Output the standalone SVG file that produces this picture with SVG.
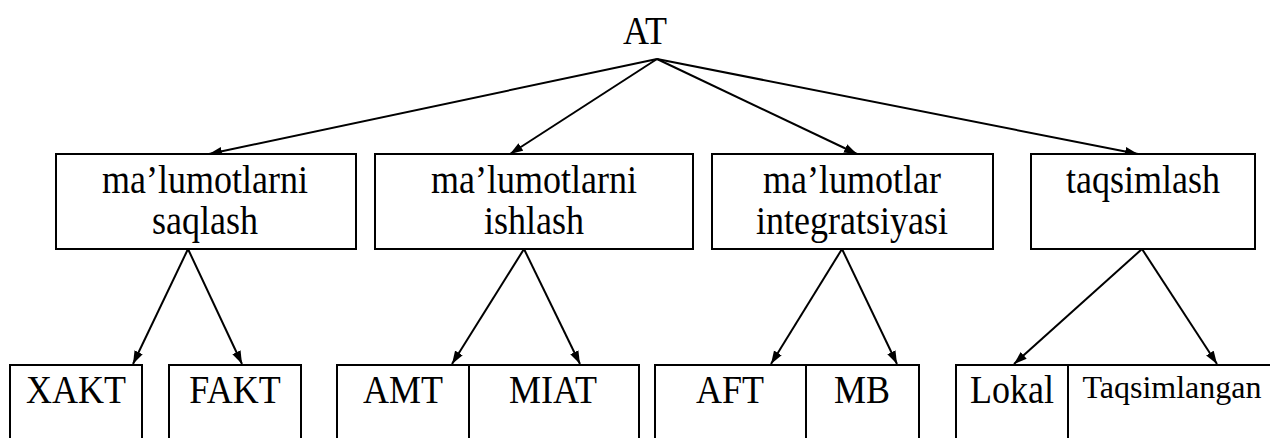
<svg xmlns="http://www.w3.org/2000/svg" width="1270" height="438" viewBox="0 0 1270 438">
<style>
  .box{fill:#fff;stroke:#000;stroke-width:2}
  .div{stroke:#000;stroke-width:2}
  .t{font-family:"Liberation Serif","Times New Roman",serif;font-size:40px;fill:#000;text-anchor:middle}
  .s{font-size:32px}
  .e{stroke:#000;stroke-width:2;fill:none;marker-end:url(#ah)}
</style>
<defs>
  <marker id="ah" markerUnits="userSpaceOnUse" markerWidth="14" markerHeight="10" refX="13" refY="5" orient="auto">
    <path d="M0,0.5 L13,5 L0,9.5 z" fill="#000"/>
  </marker>
</defs>
<rect width="1270" height="438" fill="#fff"/>
<g id="connectors">
  <line class="e" x1="657" y1="59" x2="209" y2="154"/>
  <line class="e" x1="657" y1="59" x2="510" y2="154"/>
  <line class="e" x1="657" y1="59" x2="857" y2="154"/>
  <line class="e" x1="657" y1="59" x2="1138" y2="154"/>
  <line class="e" x1="188" y1="249" x2="133" y2="364"/>
  <line class="e" x1="188" y1="249" x2="242" y2="364"/>
  <line class="e" x1="524" y1="249" x2="452" y2="364"/>
  <line class="e" x1="524" y1="249" x2="580" y2="364"/>
  <line class="e" x1="842" y1="249" x2="771" y2="364"/>
  <line class="e" x1="842" y1="249" x2="897" y2="364"/>
  <line class="e" x1="1142" y1="249" x2="1014" y2="364"/>
  <line class="e" x1="1142" y1="249" x2="1217" y2="364"/>
</g>
<g id="root"><text class="t" transform="translate(645,44) scale(0.9,1)">AT</text></g>
<g id="saqlash">
  <rect class="box" x="56" y="154" width="300" height="95"/>
  <text class="t" transform="translate(205,193) scale(0.9,1)">ma’lumotlarni</text>
  <text class="t" transform="translate(205,234) scale(0.9,1)">saqlash</text>
</g>
<g id="ishlash">
  <rect class="box" x="375" y="154" width="318" height="95"/>
  <text class="t" transform="translate(534,193) scale(0.9,1)">ma’lumotlarni</text>
  <text class="t" transform="translate(534,234) scale(0.9,1)">ishlash</text>
</g>
<g id="integratsiya">
  <rect class="box" x="712" y="154" width="281" height="95"/>
  <text class="t" transform="translate(852,193) scale(0.9,1)">ma’lumotlar</text>
  <text class="t" transform="translate(852,234) scale(0.9,1)">integratsiyasi</text>
</g>
<g id="taqsimlash">
  <rect class="box" x="1031" y="154" width="224" height="95"/>
  <text class="t" transform="translate(1143,193) scale(0.9,1)">taqsimlash</text>
</g>
<g id="xakt">
  <rect class="box" x="10" y="365" width="132" height="90"/>
  <text class="t" transform="translate(76,403) scale(0.9,1)">XAKT</text>
</g>
<g id="fakt">
  <rect class="box" x="169" y="365" width="132" height="90"/>
  <text class="t" transform="translate(235,403) scale(0.9,1)">FAKT</text>
</g>
<g id="amt-miat">
  <rect class="box" x="337" y="365" width="302" height="90"/>
  <line class="div" x1="469" y1="365" x2="469" y2="445"/>
  <text class="t" transform="translate(403,403) scale(0.9,1)">AMT</text>
  <text class="t" transform="translate(553,403) scale(0.9,1)">MIAT</text>
</g>
<g id="aft-mb">
  <rect class="box" x="655" y="365" width="264" height="90"/>
  <line class="div" x1="806" y1="365" x2="806" y2="445"/>
  <text class="t" transform="translate(730,403) scale(0.9,1)">AFT</text>
  <text class="t" transform="translate(862,403) scale(0.9,1)">MB</text>
</g>
<g id="lokal-taqsim">
  <rect class="box" x="956" y="365" width="330" height="90"/>
  <line class="div" x1="1068" y1="365" x2="1068" y2="445"/>
  <text class="t" transform="translate(1012,403) scale(0.9,1)">Lokal</text>
  <text class="t s" x="1172" y="398">Taqsimlangan</text>
</g>
</svg>
